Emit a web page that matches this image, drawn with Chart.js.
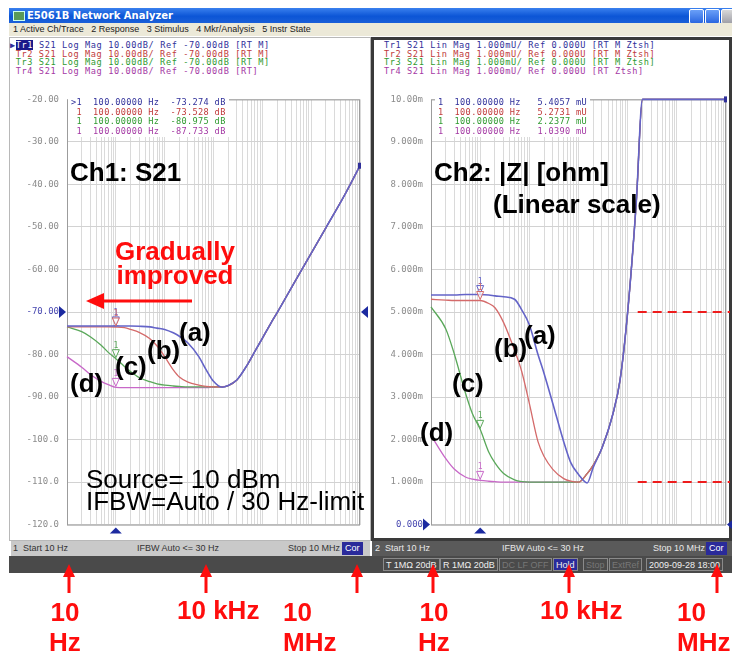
<!DOCTYPE html>
<html>
<head>
<meta charset="utf-8">
<title>E5061B S21 / |Z|</title>
<script src="https://cdn.jsdelivr.net/npm/chart.js@4.4.1/dist/chart.umd.min.js"></script>
<style>
  body { margin:0; width:732px; height:654px; position:relative; overflow:hidden; background:#fff;
         font-family:"Liberation Sans", Arial, sans-serif; }
  .abs { position:absolute; }
  .titlebar { left:9px; top:8px; width:723px; height:15px; background:linear-gradient(#3a80ee,#0c55d6 55%,#1a5fd8); }
  .titlebar .txt { left:18px; top:1px; font:bold 10px/13px "DejaVu Sans", sans-serif; color:#fff; }
  .titlebar .ico { left:4px; top:3px; width:10px; height:8px; background:#5a9a5a; border:1px solid #cfe; }
  .btn { top:1px; width:13px; height:13px; border:1px solid #fff; border-radius:2px; background:linear-gradient(#6aa0f8,#2a66e0); }
  .menubar { left:9px; top:23px; width:723px; height:13px; background:#ece9d8; font:9px/13px "Liberation Sans", sans-serif; color:#222; }
  .panelL { left:9px; top:37px; width:362px; height:504px; background:#fff; border:1px solid #b8b8b8; box-sizing:border-box; }
  .panelR { left:371px; top:37px; width:361px; height:504px; background:#fff; border:3px solid #3a3a3a; box-sizing:border-box; }
  .mono { font-family:"DejaVu Sans Mono", monospace; white-space:pre; }
  .legend { font-size:8.6px; line-height:8.5px; letter-spacing:0.6px; }
  .readout { background:#fff; font-size:8.6px; line-height:9.7px; letter-spacing:0.35px; padding:0 3px; }
  .hl { background:#1a1a8a; color:#fff; }
  .c1 { color:#30309a; } .c2 { color:#c03a3a; } .c3 { color:#2f9a2f; } .c4 { color:#a438a4; }
  .bar1 { left:11px; top:541px; width:359px; height:15px; background:#c9c9c9; font:9px/15px "Liberation Sans", sans-serif; color:#333; }
  .bar2 { left:372px; top:541px; width:360px; height:15px; background:#5a5a5a; font:9px/15px "Liberation Sans", sans-serif; color:#e8e8e8; }
  .bar3 { left:9px; top:556px; width:723px; height:17px; background:#4a4a4a; font:9px/13px "Liberation Sans", sans-serif; color:#eee; }
  .item { top:2px; height:13px; border:1px solid #8a8a8a; box-sizing:border-box; padding:0 2px; white-space:nowrap; }
  .dim { color:#777; }
  .cor { background:#2a2a9a; color:#fff; padding:0 3px; line-height:13px; top:1px; }
  .big { position:absolute; font:bold 26px/26px "Liberation Sans", Arial, sans-serif; color:#000; white-space:nowrap; }
  .reg { font-weight:normal; }
  .red { color:#ff0d0d; }
</style>
</head>
<body>
<!-- window chrome -->
<div class="abs titlebar">
  <div class="abs ico"></div>
  <div class="abs txt">E5061B Network Analyzer</div>
  <div class="abs btn" style="left:680px"></div>
  <div class="abs btn" style="left:696px"></div>
  <div class="abs btn" style="left:712px;background:linear-gradient(#d8d8d8,#a0a0a8)"></div>
</div>
<div class="abs menubar"><span style="margin-left:4px">1 Active Ch/Trace&nbsp;&nbsp; 2 Response&nbsp;&nbsp; 3 Stimulus&nbsp;&nbsp; 4 Mkr/Analysis&nbsp;&nbsp; 5 Instr State</span></div>
<div class="abs panelL"></div>
<div class="abs panelR"></div>

<div class="abs mono legend" style="left:10px;top:41px"><span class="c1">&#9654;</span><span class="hl">Tr1</span><span class="c1"> S21 Log Mag 10.00dB/ Ref -70.00dB [RT M]</span>
<span class="c2"> Tr2 S21 Log Mag 10.00dB/ Ref -70.00dB [RT M]</span>
<span class="c3"> Tr3 S21 Log Mag 10.00dB/ Ref -70.00dB [RT M]</span>
<span class="c4"> Tr4 S21 Log Mag 10.00dB/ Ref -70.00dB [RT]</span></div>
<div class="abs mono legend" style="left:384px;top:41px"><span class="c1">Tr1 S21 Lin Mag 1.000mU/ Ref 0.000U [RT M Ztsh]</span>
<span class="c2">Tr2 S21 Lin Mag 1.000mU/ Ref 0.000U [RT M Ztsh]</span>
<span class="c3">Tr3 S21 Lin Mag 1.000mU/ Ref 0.000U [RT M Ztsh]</span>
<span class="c4">Tr4 S21 Lin Mag 1.000mU/ Ref 0.000U [RT Ztsh]</span></div>

<canvas id="chS21" class="abs" width="370" height="452" style="left:0;top:86px"></canvas>
<canvas id="chZ" class="abs" width="360" height="452" style="left:372px;top:86px"></canvas>

<div class="abs mono readout" style="left:68px;top:98px"><span class="c1">&gt;1  100.00000 Hz  -73.274 dB</span>
<span class="c2"> 1  100.00000 Hz  -73.528 dB</span>
<span class="c3"> 1  100.00000 Hz  -80.975 dB</span>
<span class="c4"> 1  100.00000 Hz  -87.733 dB</span></div>
<div class="abs mono readout" style="left:435px;top:98px"><span class="c1">1  100.00000 Hz   5.4057 mU</span>
<span class="c2">1  100.00000 Hz   5.2731 mU</span>
<span class="c3">1  100.00000 Hz   2.2377 mU</span>
<span class="c4">1  100.00000 Hz   1.0390 mU</span></div>

<!-- status bars -->
<div class="abs bar1">
  <span class="abs" style="left:2px">1&nbsp; Start 10 Hz</span>
  <span class="abs" style="left:126px">IFBW Auto &lt;= 30 Hz</span>
  <span class="abs" style="left:277px">Stop 10 MHz</span>
  <span class="abs cor" style="left:331px">Cor</span>
</div>
<div class="abs bar2">
  <span class="abs" style="left:3px">2&nbsp; Start 10 Hz</span>
  <span class="abs" style="left:130px">IFBW Auto &lt;= 30 Hz</span>
  <span class="abs" style="left:281px">Stop 10 MHz</span>
  <span class="abs cor" style="left:334px">Cor</span>
</div>
<div class="abs bar3">
  <span class="abs item" style="left:374px">T 1M&#937; 20dB</span>
  <span class="abs item" style="left:431px">R 1M&#937; 20dB</span>
  <span class="abs item dim" style="left:490px">DC LF OFF</span>
  <span class="abs item" style="left:544px;background:#2a2a9a">Hold</span>
  <span class="abs item dim" style="left:574px">Stop</span>
  <span class="abs item dim" style="left:600px">ExtRef</span>
  <span class="abs item" style="left:637px">2009-09-28 18:00</span>
</div>

<!-- annotations -->
<div class="big" style="left:70px;top:159px">Ch1: S21</div>
<div class="big red" style="left:115px;top:239px;line-height:24px;text-align:center">Gradually<br>improved</div>
<div class="big" style="left:179px;top:319px">(a)</div>
<div class="big" style="left:147px;top:337px">(b)</div>
<div class="big" style="left:115px;top:353px">(c)</div>
<div class="big" style="left:70px;top:370px">(d)</div>
<div class="big reg" style="left:86px;top:468px;line-height:22px">Source= 10 dBm<br>IFBW=Auto / 30 Hz-limit</div>

<div class="big" style="left:434px;top:159px">Ch2: |Z| [ohm]</div>
<div class="big" style="left:493px;top:191px">(Linear scale)</div>
<div class="big" style="left:524px;top:322px">(a)</div>
<div class="big" style="left:494px;top:335px">(b)</div>
<div class="big" style="left:452px;top:370px">(c)</div>
<div class="big" style="left:420px;top:419px">(d)</div>

<svg class="abs" style="left:0;top:0" width="732" height="654">
  <g fill="#ff0d0d" stroke="#ff0d0d">
    <line x1="192" y1="301" x2="100" y2="301" stroke-width="3"/>
    <polygon points="86,301 104,293 104,309" stroke="none"/>
  </g>
  <g fill="#ff0d0d" stroke="#ff0d0d" stroke-width="3">
    <line x1="69" y1="575" x2="69" y2="593"/><polygon points="69,564 63,577 75,577" stroke="none"/>
    <line x1="206" y1="575" x2="206" y2="593"/><polygon points="206,564 200,577 212,577" stroke="none"/>
    <line x1="357" y1="575" x2="357" y2="593"/><polygon points="357,564 351,577 363,577" stroke="none"/>
    <line x1="433" y1="575" x2="433" y2="593"/><polygon points="433,564 427,577 439,577" stroke="none"/>
    <line x1="569" y1="575" x2="569" y2="593"/><polygon points="569,564 563,577 575,577" stroke="none"/>
    <line x1="717" y1="575" x2="717" y2="593"/><polygon points="717,564 711,577 723,577" stroke="none"/>
  </g>
</svg>
<div class="big red" style="left:49px;top:597px;line-height:30px;text-align:center">10<br>Hz</div>
<div class="big red" style="left:177px;top:597px">10 kHz</div>
<div class="big red" style="left:283px;top:597px;line-height:30px">10<br>MHz</div>
<div class="big red" style="left:418px;top:597px;line-height:30px;text-align:center">10<br>Hz</div>
<div class="big red" style="left:540px;top:597px">10 kHz</div>
<div class="big red" style="left:677px;top:597px;line-height:30px">10<br>MHz</div>

<script>
// sweep points, 10 Hz .. 10 MHz
const freqHz = [10, 20, 30, 50, 70, 100, 150, 200, 300, 500, 700, 1e3, 1.5e3, 2e3, 3e3, 5e3, 7e3,
                1e4, 1.5e4, 2e4, 3e4, 5e4, 7e4, 1e5, 1.5e5, 2e5, 5e5, 1e6, 2e6, 5e6, 1e7];

// Ch1: S21 log mag [dB], traces (a)..(d)
const s21A = [-73.3, -73.3, -73.3, -73.3, -73.3, -73.27, -73.3, -73.3, -73.35, -73.5, -73.8, -74.1, -74.9, -75.7,
              -77.3, -80.5, -83.5, -86.3, -87.7, -87.3, -86.0, -82.3, -79.3, -76.2, -72.6, -70.2, -62.2, -56.2, -50.2, -42.2, -35.6];
const s21B = [-73.5, -73.5, -73.5, -73.5, -73.5, -73.53, -73.7, -74.1, -74.8, -76.3, -78.0, -80.5, -83.6, -85.3,
              -86.5, -87.2, -87.5, -87.6, -87.6, -87.3, -86.0, -82.3, -79.3, -76.2, -72.6, -70.2, -62.2, -56.2, -50.2, -42.2, -35.6];
const s21C = [-73.5, -74.6, -75.8, -77.8, -79.5, -80.98, -82.8, -84.0, -85.4, -86.4, -86.9, -87.2, -87.4, -87.5,
              -87.6, -87.6, -87.6, -87.6, -87.6, -87.3, -86.0, -82.3, -79.3, -76.2, -72.6, -70.2, -62.2, -56.2, -50.2, -42.2, -35.6];
const s21D = [-80.5, -83.0, -84.7, -86.3, -87.1, -87.73, -87.8, -87.8, -87.8, -87.8, -87.8, -87.8, -87.8, -87.8,
              -87.8, -87.8, -87.8, -87.7, -87.6, -87.3, -86.0, -82.3, -79.3, -76.2, -72.6, -70.2, -62.2, -56.2, -50.2, -42.2, -35.6];

// Ch2: |Z| linear [mOhm], traces (a)..(d); values above 10 are clamped at the top of the screen
const zA = [5.40, 5.40, 5.40, 5.41, 5.41, 5.41, 5.40, 5.38, 5.36, 5.30, 5.05, 4.70, 4.00, 3.55, 2.85, 1.95, 1.45,
            1.18, 0.98, 1.35, 1.8, 2.6, 3.4, 5.0, 7.6, 10, 10, 10, 10, 10, 10];
const zB = [5.30, 5.28, 5.27, 5.27, 5.27, 5.27, 5.20, 5.10, 4.75, 4.10, 3.60, 2.85, 1.95, 1.60, 1.30, 1.08, 1.02,
            1.00, 1.20, 1.4, 1.8, 2.6, 3.4, 5.0, 7.6, 10, 10, 10, 10, 10, 10];
const zC = [5.12, 4.60, 4.00, 3.10, 2.60, 2.24, 1.70, 1.45, 1.20, 1.05, 1.01, 1.00, 1.00, 1.00, 1.00, 1.00, 1.00,
            1.00, 1.20, 1.4, 1.8, 2.6, 3.4, 5.0, 7.6, 10, 10, 10, 10, 10, 10];
const zD = [2.10, 1.55, 1.30, 1.12, 1.07, 1.04, 1.02, 1.01, 1.00, 1.00, 1.00, 1.00, 1.00, 1.00, 1.00, 1.00, 1.00,
            1.00, 1.20, 1.4, 1.8, 2.6, 3.4, 5.0, 7.6, 10, 10, 10, 10, 10, 10];

const traceColors = ['#6464c8', '#d46a6a', '#5aa85a', '#c868c8'];

// axis ticks
const dbTicks = [-20, -30, -40, -50, -60, -70, -80, -90, -100, -110, -120];
const mohmTicks = [10, 9, 8, 7, 6, 5, 4, 3, 2, 1, 0];
const gridDecades = [10, 100, 1e3, 1e4, 1e5, 1e6];
const gridSteps = [1, 2, 3, 4, 5, 6, 7, 8, 9];
const gridFreqs = gridDecades.flatMap((d) => gridSteps.map((s) => d * s)).concat([1e7]);

const markerFreq = 100;
const limitLines = [5, 1];   // red dashed lines on Ch2 [mOhm]
const limitFrom = 1.6e5;

const analyzerMarks = {
  id: 'analyzerMarks',
  beforeDatasetsDraw(chart) {
    const { ctx, chartArea: a } = chart;
    ctx.save();
    ctx.strokeStyle = '#9c9c9c'; ctx.lineWidth = 1;
    ctx.strokeRect(a.left + 0.5, a.top + 0.5, a.right - a.left - 1, a.bottom - a.top);
    ctx.restore();
  },
  afterDatasetsDraw(chart, args, opts) {
    const { ctx, chartArea: a, scales: { x, y } } = chart;
    ctx.save();

    // trace markers at marker frequency
    const mi = freqHz.indexOf(markerFreq);
    ctx.font = '8px "DejaVu Sans Mono"'; ctx.textAlign = 'center'; ctx.textBaseline = 'bottom';
    chart.data.datasets.forEach((ds, i) => {
      const p = chart.getDatasetMeta(i).data[mi];
      ctx.strokeStyle = ds.borderColor; ctx.fillStyle = 'rgba(255,255,255,0.7)';
      ctx.beginPath();
      ctx.moveTo(p.x, p.y - 1); ctx.lineTo(p.x - 3.5, p.y - 9); ctx.lineTo(p.x + 3.5, p.y - 9); ctx.closePath();
      ctx.fill(); ctx.stroke();
      ctx.fillStyle = ds.borderColor;
      ctx.fillText('1', p.x, p.y - 9);
    });

    // end-of-sweep marker of trace 1
    const pts = chart.getDatasetMeta(0).data;
    const last = pts[pts.length - 1];
    ctx.fillStyle = '#30309a';
    ctx.fillRect(last.x - 2, last.y - 3, 3, 6);

    // reference level arrows
    const ry = y.getPixelForValue(opts.refValue);
    ctx.fillStyle = '#1c2aa0';
    ctx.beginPath(); ctx.moveTo(a.left - 1, ry); ctx.lineTo(a.left - 8, ry - 6); ctx.lineTo(a.left - 8, ry + 6); ctx.fill();
    ctx.beginPath(); ctx.moveTo(a.right + 1, ry); ctx.lineTo(a.right + 8, ry - 6); ctx.lineTo(a.right + 8, ry + 6); ctx.fill();

    // stimulus marker arrow under the grid
    const mx = x.getPixelForValue(markerFreq);
    ctx.beginPath(); ctx.moveTo(mx, a.bottom + 3); ctx.lineTo(mx - 6, a.bottom + 9); ctx.lineTo(mx + 6, a.bottom + 9); ctx.fill();

    // limit lines
    (opts.limits || []).forEach((v) => {
      const ly = y.getPixelForValue(v);
      ctx.strokeStyle = '#ee1c1c'; ctx.lineWidth = 2; ctx.setLineDash([9, 6]);
      ctx.beginPath(); ctx.moveTo(x.getPixelForValue(limitFrom), ly); ctx.lineTo(chart.width - 2, ly); ctx.stroke();
    });
    ctx.restore();
  },
};

function makeChart(id, traces, cfg) {
  return new Chart(document.getElementById(id), {
    type: 'line',
    data: {
      datasets: traces.map((vals, i) => ({
        data: freqHz.map((f, k) => ({ x: f, y: vals[k] })),
        borderColor: traceColors[i],
        borderWidth: i === 0 ? 1.6 : 1.3,
        pointRadius: 0,
        clip: 3,
        cubicInterpolationMode: 'monotone',
      })),
    },
    options: {
      responsive: false, animation: false, devicePixelRatio: 1,
      layout: { padding: { top: 8, bottom: 8, left: 0, right: cfg.padRight } },
      plugins: {
        legend: { display: false }, tooltip: { enabled: false },
        analyzerMarks: { refValue: cfg.ref, limits: cfg.limits },
      },
      scales: {
        x: {
          type: 'logarithmic', min: 10, max: 1e7,
          afterBuildTicks: (s) => { s.ticks = gridFreqs.map((v) => ({ value: v })); },
          afterFit: (s) => { s.height = 0; },
          ticks: { display: false },
          grid: { color: '#dadada', drawTicks: false },
          border: { display: false },
        },
        y: {
          min: cfg.min, max: cfg.max,
          afterBuildTicks: (s) => { s.ticks = cfg.ticks.map((v) => ({ value: v })); },
          afterFit: (s) => { s.width = cfg.axisWidth; },
          ticks: {
            callback: cfg.fmt, padding: 8,
            color: (c) => (c.tick && c.tick.value === cfg.ref ? '#4848b0' : '#8c8c8c'),
            font: { family: 'DejaVu Sans Mono', size: 9 },
          },
          grid: { color: '#d2d2d2', drawTicks: false },
          border: { display: false },
        },
      },
    },
    plugins: [analyzerMarks],
  });
}

makeChart('chS21', [s21A, s21B, s21C, s21D], {
  min: -120, max: -20, ticks: dbTicks, ref: -70, axisWidth: 67, padRight: 10,
  fmt: (v) => (v <= -100 ? v.toFixed(1) : v.toFixed(2)),
});
makeChart('chZ', [zA, zB, zC, zD], {
  min: 0, max: 10, ticks: mohmTicks, ref: 0, axisWidth: 59, padRight: 6, limits: limitLines,
  fmt: (v) => (v === 0 ? '0.000' : v === 10 ? '10.00m' : v.toFixed(3) + 'm'),
});
</script>
</body>
</html>
